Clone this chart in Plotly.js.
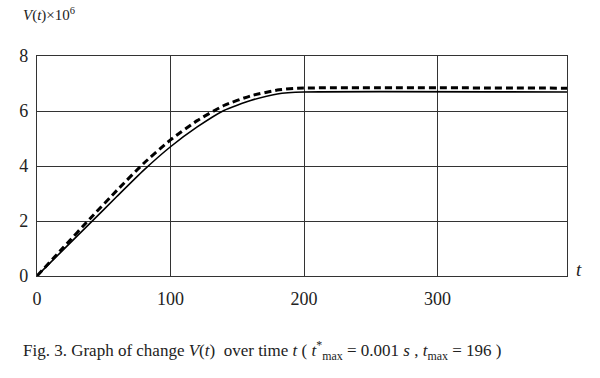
<!DOCTYPE html>
<html>
<head>
<meta charset="utf-8">
<script src="https://cdn.plot.ly/plotly-3.0.1.min.js"></script>
<style>html,body{margin:0;padding:0;background:#fff;}#chart{width:600px;height:378px;}</style>
</head>
<body>
<div id="chart"></div>
<script>
// Solid curve V(t) (x 10^6)
const tSolid = [0, 20, 40, 60, 80, 100, 120, 140, 160, 180, 200, 397];
const vSolid = [0, 0.97, 1.93, 2.9, 3.85, 4.70, 5.42, 6.02, 6.38, 6.62, 6.69, 6.69];
// Dashed curve
const tDashed = [0, 20, 40, 60, 80, 100, 120, 140, 160, 180, 195, 397];
const vDashed = [0, 1.05, 2.1, 3.12, 4.1, 4.95, 5.65, 6.2, 6.55, 6.76, 6.83, 6.83];
const xTicks = [0, 100, 200, 300];
const yTicks = [0, 2, 4, 6, 8];

const serif = "Liberation Serif, Times New Roman, serif";

const traces = [
  {x: tDashed, y: vDashed, mode: 'lines', line: {color: '#000', width: 3, dash: '7px,4px', shape: 'spline', smoothing: 0.5}, hoverinfo: 'skip'},
  {x: tSolid, y: vSolid, mode: 'lines', line: {color: '#000', width: 1.6, shape: 'spline', smoothing: 0.5}, hoverinfo: 'skip'}
];

const layout = {
  width: 600, height: 378,
  margin: {l: 37, r: 33, t: 56, b: 102},
  paper_bgcolor: '#fff', plot_bgcolor: '#fff',
  showlegend: false,
  font: {family: serif, color: '#222', size: 16},
  xaxis: {
    range: [0, 397], tickvals: xTicks, ticktext: xTicks.map(String),
    showgrid: true, gridcolor: '#333', gridwidth: 1,
    showline: true, linecolor: '#333', linewidth: 1.2, mirror: true,
    zeroline: false, ticks: '', ticklen: 0, ticklabelstandoff: 6,
    tickfont: {family: serif, size: 18, color: '#222'}
  },
  yaxis: {
    range: [0, 8], tickvals: yTicks, ticktext: yTicks.map(String),
    showgrid: true, gridcolor: '#333', gridwidth: 1,
    showline: true, linecolor: '#333', linewidth: 1.2, mirror: true,
    zeroline: false, ticks: '', ticklen: 0, ticklabelstandoff: 4,
    tickfont: {family: serif, size: 18, color: '#222'}
  },
  annotations: [
    {xref: 'paper', yref: 'paper', x: -0.03, y: 1.19, xanchor: 'left', yanchor: 'middle', showarrow: false,
     text: '<i>V</i>(<i>t</i>)×10<sup>6</sup>', font: {family: serif, size: 15, color: '#222'}},
    {xref: 'paper', yref: 'paper', x: 1.013, y: 0.03, xanchor: 'left', yanchor: 'middle', showarrow: false,
     text: '<i>t</i>', font: {family: serif, size: 19, color: '#222'}},
    {xref: 'paper', yref: 'paper', x: -0.03, y: -0.34, xanchor: 'left', yanchor: 'middle', showarrow: false,
     text: 'Fig. 3. Graph of change <i>V</i>(<i>t</i>)  over time <i>t</i> ( <i>t</i><sup>*</sup><sub>max</sub> = 0.001 <i>s</i> , <i>t</i><sub>max</sub> = 196 )',
     font: {family: serif, size: 17, color: '#222'}}
  ]
};

Plotly.newPlot('chart', traces, layout, {staticPlot: true, displayModeBar: false});
</script>
</body>
</html>
